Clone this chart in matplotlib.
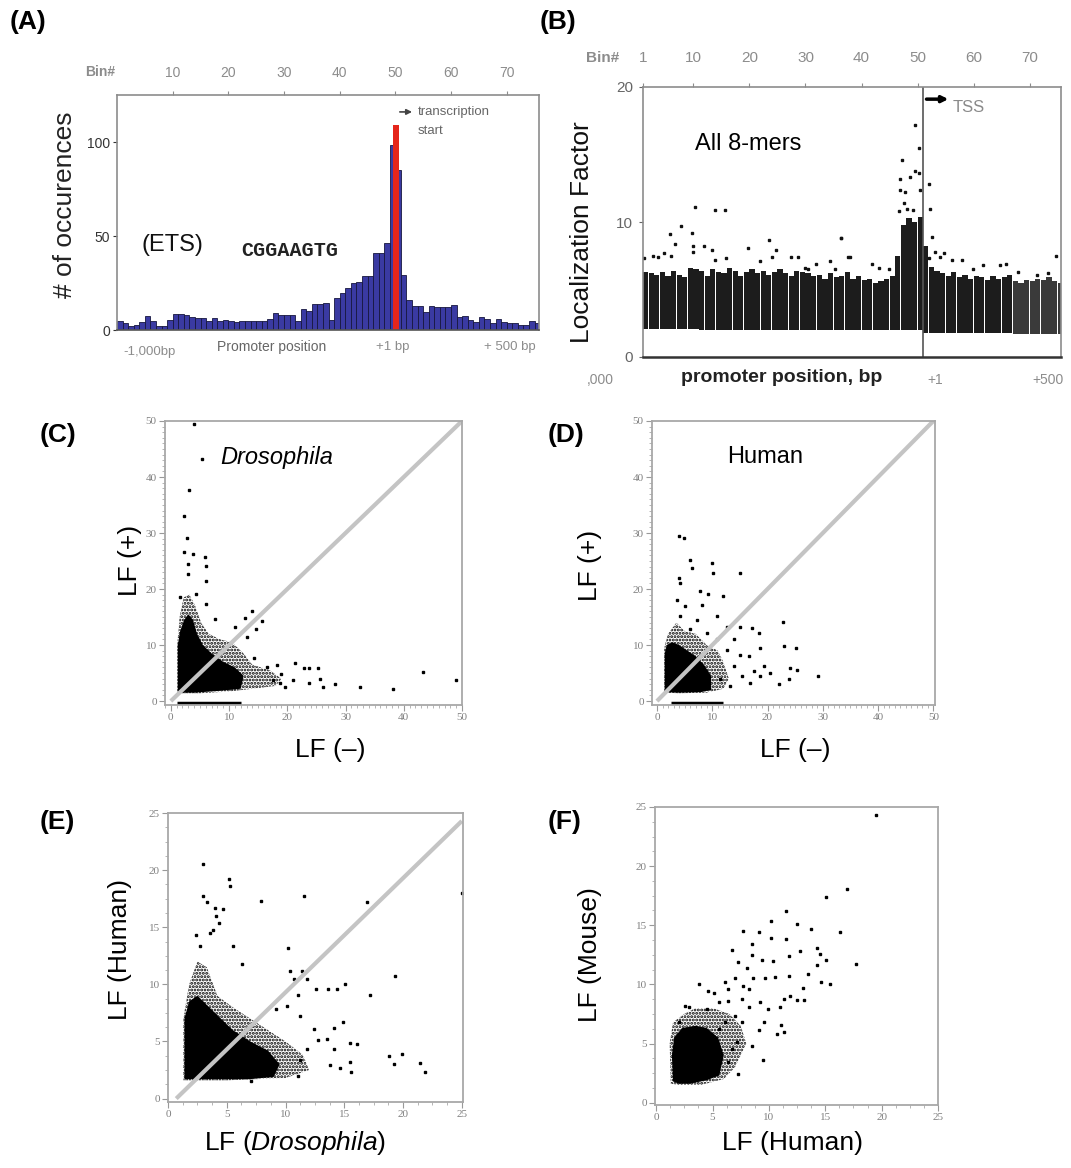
import matplotlib.pyplot as plt
import numpy as np
from matplotlib.ticker import MultipleLocator

plt.rcParams['font.family'] = ['Liberation Sans', 'DejaVu Sans']
plt.rcParams['mathtext.fontset'] = 'custom'
plt.rcParams['mathtext.rm'] = 'Liberation Sans'
plt.rcParams['mathtext.it'] = 'Liberation Sans:italic'
plt.rcParams['hatch.linewidth'] = 1.4

W, H = 1071, 1168

# --- (A) ETS motif CGGAAGTG, occurrences per bin ---
ets_counts = [4.6, 3.5, 2.3, 2.8, 4.0, 7.3, 4.6, 2.3, 2.3, 5.3,
              8.5, 8.5, 8.2, 6.7, 6.2, 6.2, 5.0, 6.4, 4.6, 5.3,
              4.6, 4.1, 4.6, 5.0, 5.0, 5.0, 5.0, 5.9, 8.9, 8.2,
              8.0, 8.2, 5.0, 11.2, 10.3, 13.8, 13.8, 14.5, 5.3, 16.8,
              19.5, 22.2, 24.8, 25.7, 28.7, 28.7, 40.8, 40.8, 46.5, 98.4,
              85.1, 29.0, 16.0, 12.8, 12.8, 9.8, 12.8, 12.4, 12.4, 12.4,
              13.3, 7.1, 7.4, 5.3, 4.4, 7.1, 5.7, 3.5, 5.7, 4.4,
              3.9, 3.5, 2.7, 2.7, 5.0, 3.5]
tss_bin_a = 50.1
tss_count_a = 109
bin_ticks = [10, 20, 30, 40, 50, 60, 70]

# --- (B) all 8-mers, localization factor per bin ---
lf_top = [6.3, 6.2, 6.1, 6.3, 6.0, 6.4, 6.1, 5.9, 6.6, 6.5,
          6.4, 6.0, 6.5, 6.3, 6.2, 6.6, 6.4, 6.0, 6.3, 6.5,
          6.2, 6.4, 6.1, 6.3, 6.5, 6.2, 6.0, 6.4, 6.3, 6.2,
          6.0, 6.1, 5.8, 6.2, 5.9, 6.0, 6.3, 5.8, 6.0, 5.7,
          5.8, 5.5, 5.6, 5.8, 6.0, 7.5, 9.8, 10.3, 10.0, 10.4,
          8.2, 6.7, 6.4, 6.2, 6.0, 6.3, 5.9, 6.1, 5.8, 6.0,
          5.9, 5.7, 6.0, 5.8, 5.9, 6.1, 5.6, 5.5, 5.7, 5.6,
          5.8, 5.7, 5.9, 5.6, 5.5]
lf_bottom = [2.1] * 10 + [2.0] * 40 + [1.8] * 16 + [1.7] * 9
out_bin_b = [10.3, 13.8, 15.7, 7.7, 5.8, 9.8, 6.7, 23.4, 36.3, 34.3, 10.0, 10.0, 11.9,
             13.3, 13.9, 19.8, 24.8, 15.8, 21.9, 24.0, 27.5, 28.7, 29.9, 31.9, 30.4,
             35.2, 37.5, 6.0, 4.8, 2.7, 1.2, 3.6,
             49.5, 50.2, 47.2, 49.5, 50.2, 46.8, 48.7, 50.5, 52.0, 46.8, 47.8, 52.3,
             52.6, 36.4, 37.9, 41.9, 43.1, 44.9, 54.8, 56.1, 58.0, 59.9, 61.7, 64.8,
             65.8, 67.9, 74.7, 71.4, 73.2, 52.0, 53.2, 54.0, 47.5, 48.2, 49.2, 46.6]
out_val_b = [11.1, 10.9, 10.9, 9.7, 9.1, 9.2, 8.4, 8.7, 8.8, 7.1, 8.2, 7.8, 8.2,
             7.9, 7.2, 8.1, 7.9, 7.3, 7.1, 7.4, 7.4, 7.4, 6.6, 6.9, 6.5,
             6.5, 7.4, 7.5, 7.7, 7.5, 7.3, 7.4,
             17.2, 15.5, 14.6, 13.8, 13.6, 13.2, 13.3, 12.4, 12.8, 12.4, 12.2, 11.0,
             8.9, 8.8, 7.4, 6.9, 6.6, 6.5, 7.7, 7.2, 7.2, 6.5, 6.8, 6.8,
             6.9, 6.3, 7.5, 6.1, 6.2, 7.3, 7.8, 7.4, 11.4, 11.0, 10.9, 10.8]
bin_ticks_b = [1, 10, 20, 30, 40, 50, 60, 70]
tss_bin_b = 51

# --- (C) Drosophila LF(+) vs LF(-) ---
c_core_x = [1.2, 1.2, 1.6, 2.3, 3.0, 3.8, 4.5, 5.5, 7.0, 9.0, 11.0, 12.5, 12.0, 8.0, 4.0]
c_core_y = [1.5, 10.0, 12.5, 14.5, 15.5, 14.5, 12.0, 10.0, 8.5, 7.0, 6.0, 4.5, 2.2, 1.8, 1.5]
c_halo_x = [1.1, 1.1, 1.5, 2.2, 3.2, 4.2, 5.2, 6.5, 8.5, 10.5, 12.5, 14.0, 17.0, 19.0, 18.0, 14.0, 10.0, 5.0]
c_halo_y = [1.4, 10.0, 15.0, 18.5, 19.0, 17.0, 14.0, 12.0, 11.0, 10.5, 8.5, 6.5, 5.5, 4.0, 2.7, 2.2, 1.7, 1.4]
c_pts_x = [4.0, 5.3, 3.2, 2.3, 2.8, 2.2, 3.8, 5.8, 3.0, 6.0, 6.1, 3.0, 1.5, 4.4, 6.1,
           7.6, 14.0, 15.7, 14.6, 12.7, 11.0, 13.0, 14.3, 16.5, 18.2, 19.0, 21.3, 22.8,
           23.8, 25.2, 21.0, 23.8, 25.7, 26.2, 28.2, 32.5, 38.1, 43.3, 48.9, 19.6, 18.8, 17.6]
c_pts_y = [49.5, 43.3, 37.7, 33.0, 29.1, 26.6, 26.2, 25.8, 24.5, 24.1, 21.5, 22.7, 18.6, 19.2, 17.4,
           14.7, 16.1, 14.3, 12.9, 14.9, 13.2, 11.4, 7.7, 6.1, 6.4, 4.9, 6.8, 5.9,
           5.9, 5.9, 3.7, 3.2, 4.0, 2.5, 3.0, 2.5, 2.1, 5.2, 3.8, 2.6, 3.2, 3.8]
c_strip = (1.0, 12.0)

# --- (D) Human LF(+) vs LF(-) ---
d_core_x = [1.4, 1.4, 1.8, 2.8, 4.0, 5.5, 7.0, 8.5, 9.8, 9.8, 8.0, 4.0]
d_core_y = [1.6, 8.5, 10.0, 10.5, 10.0, 9.0, 8.0, 6.5, 4.5, 2.0, 1.6, 1.5]
d_halo_x = [1.3, 1.3, 2.0, 3.5, 5.0, 7.0, 9.0, 11.0, 12.0, 13.0, 12.0, 9.0, 4.0]
d_halo_y = [1.5, 9.5, 12.0, 14.0, 12.5, 12.0, 10.0, 9.0, 7.0, 4.0, 2.2, 1.5, 1.4]
d_pts_x = [4.8, 3.9, 5.9, 6.3, 10.0, 10.2, 15.1, 4.0, 4.2, 7.8, 9.2, 12.0, 3.6, 5.1, 8.1,
           4.2, 10.8, 12.7, 15.1, 17.2, 18.4, 22.8, 23.0, 25.1, 18.7, 16.6, 15.1, 13.9,
           15.4, 17.5, 19.3, 20.5, 22.0, 23.8, 24.1, 25.4, 29.2, 18.7, 16.9, 13.3, 11.4,
           12.7, 10.8, 9.0, 13.9, 6.0, 7.2]
d_pts_y = [29.1, 29.4, 25.2, 23.7, 24.6, 22.8, 22.8, 21.9, 21.1, 19.6, 19.1, 18.7, 18.1, 16.9, 17.2,
           15.1, 15.1, 13.3, 13.3, 13.0, 12.2, 14.2, 9.8, 9.5, 9.5, 8.0, 8.3, 6.2,
           4.4, 5.3, 6.2, 5.0, 3.0, 3.9, 5.9, 5.5, 4.4, 4.4, 3.3, 2.7, 3.9,
           9.2, 11.0, 12.2, 11.0, 12.8, 14.5]
d_strip = (2.5, 12.0)

# --- (E) LF(Human) vs LF(Drosophila) ---
e_core_x = [1.4, 1.4, 1.8, 2.5, 3.5, 4.5, 5.5, 7.0, 8.5, 9.5, 9.0, 7.0, 4.0]
e_core_y = [1.7, 7.0, 8.5, 9.0, 8.0, 7.0, 6.0, 5.0, 4.2, 3.0, 1.9, 1.7, 1.7]
e_halo_x = [1.3, 1.3, 1.8, 2.5, 3.3, 4.2, 5.5, 7.0, 8.5, 10.0, 11.5, 12.0, 10.0, 5.0]
e_halo_y = [1.6, 7.0, 10.0, 12.0, 11.5, 9.0, 8.0, 7.0, 6.0, 5.0, 3.8, 2.5, 1.8, 1.6]
e_pts_x = [3.0, 5.2, 5.3, 3.0, 3.3, 7.9, 11.6, 16.9, 25.0, 4.0, 4.7, 4.1, 4.3, 3.8, 3.6,
           2.4, 2.7, 5.5, 10.2, 6.3, 10.4, 11.4, 10.7, 11.8, 19.3, 12.6, 13.6, 14.4, 15.1,
           17.2, 11.1, 10.1, 9.2, 11.2, 12.4, 14.1, 14.9, 12.8, 13.5, 15.5, 16.1, 11.8,
           14.1, 11.2, 13.8, 14.6, 15.6, 15.5, 18.8, 19.9, 19.2, 21.4, 21.9, 7.1, 11.1]
e_pts_y = [20.5, 19.2, 18.6, 17.7, 17.2, 17.3, 17.7, 17.2, 18.0, 16.7, 16.6, 16.0, 15.4, 14.8, 14.5,
           14.3, 13.4, 13.4, 13.2, 11.8, 11.2, 11.2, 10.5, 10.5, 10.7, 9.6, 9.6, 9.6, 10.0,
           9.1, 9.1, 8.1, 7.8, 7.2, 6.1, 6.2, 6.7, 5.1, 5.2, 4.9, 4.8, 4.3,
           4.3, 3.4, 2.9, 2.7, 2.3, 3.2, 3.7, 3.9, 3.0, 3.1, 2.3, 1.5, 2.0]
e_diag = ([0.7, 25.0], [0.0, 24.3])

# --- (F) LF(Mouse) vs LF(Human) ---
f_core_x = [1.5, 1.4, 1.6, 2.3, 3.5, 4.5, 5.5, 6.0, 5.6, 4.5, 3.0, 2.0]
f_core_y = [1.8, 4.0, 5.5, 6.3, 6.5, 6.3, 5.5, 4.0, 2.3, 1.9, 1.6, 1.6]
f_halo_x = [1.3, 1.2, 1.5, 2.5, 3.5, 5.0, 6.5, 7.5, 8.0, 7.0, 6.0, 4.0, 2.0]
f_halo_y = [1.6, 5.0, 6.8, 7.5, 8.0, 8.0, 7.5, 6.5, 5.0, 3.0, 2.0, 1.5, 1.5]
f_pts_x = [19.5, 16.9, 15.1, 11.5, 10.2, 12.5, 13.7, 7.7, 9.1, 16.3, 10.2, 11.5, 8.5, 12.8,
           14.3, 17.7, 6.7, 8.5, 9.4, 10.4, 11.8, 15.1, 14.5, 7.3, 8.1, 14.3, 13.5, 11.8,
           10.5, 9.7, 8.6, 3.8, 6.1, 7.0, 14.6, 15.4, 13.0, 11.9, 11.3, 12.5, 13.1, 4.6,
           5.1, 2.9, 2.6, 5.6, 6.4, 7.6, 8.2, 9.2, 9.9, 11.0, 9.6, 11.1, 11.3, 10.7, 9.1,
           8.5, 7.6, 7.0, 7.2, 6.7, 9.5, 7.3, 6.4, 6.1, 5.6, 2.0, 4.5, 8.2, 7.7, 6.4]
f_pts_y = [24.3, 18.1, 17.4, 16.2, 15.4, 15.1, 14.7, 14.5, 14.4, 14.4, 13.9, 13.8, 13.4, 12.8,
           13.1, 11.7, 12.9, 12.5, 12.1, 12.0, 12.4, 12.1, 12.6, 11.9, 11.4, 11.6, 10.9, 10.7,
           10.6, 10.5, 10.5, 10.0, 10.2, 10.5, 10.2, 10.0, 9.7, 9.0, 8.8, 8.7, 8.7, 9.4,
           9.3, 8.1, 8.2, 8.5, 8.6, 8.8, 8.1, 8.5, 7.9, 8.1, 6.8, 6.6, 6.0, 5.8, 6.1,
           4.8, 6.8, 7.3, 5.1, 4.5, 3.6, 2.4, 3.4, 6.8, 6.2, 6.8, 7.9, 9.6, 9.9, 9.6]


def fx(px):
    return px / W


def fy(py):
    return 1 - py / H


def rect(left, top, right, bottom):
    return [left / W, 1 - bottom / H, (right - left) / W, (bottom - top) / H]


fig = plt.figure(figsize=(W / 100, H / 100), dpi=100)
fig.patch.set_facecolor('white')

GREY = '#8c8c8c'

# ---------------- panel A ----------------
axA = fig.add_axes(rect(117, 95, 539, 330))
bins_a = np.arange(1, len(ets_counts) + 1)
axA.bar(bins_a - 0.5, ets_counts, width=1.0, color='#3a3aa2', edgecolor='#17173f', linewidth=0.6)
axA.bar(tss_bin_a, tss_count_a, width=1.0, color='#e5261b', linewidth=0)
axA.set_xlim(0, 75.8)
axA.set_ylim(0, 125)
axA.set_yticks([0, 50, 100])
axA.tick_params(axis='y', labelsize=10, colors='#333333', length=3, pad=2)
axA.xaxis.tick_top()
axA.set_xticks(bin_ticks)
axA.tick_params(axis='x', labelsize=10, colors=GREY, length=3, pad=7.5)
for s in axA.spines.values():
    s.set_color(GREY)
    s.set_linewidth(1.2)
axA.spines['bottom'].set_color('#555555')
fig.text(fx(100), fy(72), 'Bin#', color=GREY, fontsize=10, fontweight='bold', ha='center', va='center')
fig.text(fx(65), fy(205), '# of occurences', rotation=90, fontsize=19, color='#222222', ha='center', va='center')
fig.text(fx(172), fy(245), '(ETS)', fontsize=17, color='#111111', ha='center', va='center')
fig.text(fx(290), fy(250), 'CGGAAGTG', fontsize=14.5, fontweight='bold', family='Liberation Mono',
         color='#222222', ha='center', va='center')
axA.annotate('', xy=(53.5, 116), xytext=(50.3, 116),
             arrowprops=dict(arrowstyle='-|>', color='#444444', lw=1.2, mutation_scale=8))
axA.text(54, 116, 'transcription', fontsize=9.5, color='#666666', va='center')
axA.text(54, 106, 'start', fontsize=9.5, color='#666666', va='center')
fig.text(fx(150), fy(352), '-1,000bp', fontsize=9.5, color=GREY, ha='center', va='center')
fig.text(fx(272), fy(347), 'Promoter position', fontsize=10, color='#666666', ha='center', va='center')
fig.text(fx(393), fy(347), '+1 bp', fontsize=9.5, color=GREY, ha='center', va='center')
fig.text(fx(510), fy(347), '+ 500 bp', fontsize=9.5, color=GREY, ha='center', va='center')

# ---------------- panel B ----------------
axB = fig.add_axes(rect(643, 87, 1061, 357))
bins_b = np.arange(1, len(lf_top) + 1)
heights_b = np.array(lf_top) - np.array(lf_bottom)
colors_b = ['#1c1c1c'] * 66 + ['#3a3a3a'] * (len(lf_top) - 66)
axB.bar(bins_b, heights_b, bottom=lf_bottom, width=0.93, align='edge', color=colors_b, linewidth=0)
axB.plot(out_bin_b, out_val_b, 's', ms=2.0, color='#111111', linestyle='none')
axB.axvline(tss_bin_b, color='#555555', lw=1.2)
axB.annotate('', xy=(56, 19.1), xytext=(51.1, 19.1),
             arrowprops=dict(arrowstyle='-|>', color='black', lw=2.5, mutation_scale=9))
axB.text(56.3, 18.5, 'TSS', fontsize=12, color='#8a8a8a', va='center')
axB.text(10.3, 15.8, 'All 8-mers', fontsize=17, color='black', va='center')
axB.set_xlim(1, 75.6)
axB.set_ylim(0, 20)
axB.set_yticks([0, 10, 20])
axB.tick_params(axis='y', labelsize=11, colors='#666666', length=3, pad=4)
axB.xaxis.tick_top()
axB.set_xticks(bin_ticks_b)
axB.tick_params(axis='x', labelsize=11, colors=GREY, length=3, pad=13)
for s in axB.spines.values():
    s.set_color(GREY)
    s.set_linewidth(1.2)
axB.spines['bottom'].set_color('#333333')
axB.spines['bottom'].set_linewidth(1.8)
fig.text(fx(603), fy(58), 'Bin#', color=GREY, fontsize=11, fontweight='bold', ha='center', va='center')
fig.text(fx(582), fy(232), 'Localization Factor', rotation=90, fontsize=19, color='#111111',
         ha='center', va='center')
fig.text(fx(600), fy(380), ',000', fontsize=10, color=GREY, ha='center', va='center')
fig.text(fx(782), fy(378), 'promoter position, bp', fontsize=14, fontweight='bold', color='#222222',
         ha='center', va='center')
fig.text(fx(935), fy(380), '+1', fontsize=10, color=GREY, ha='center', va='center')
fig.text(fx(1048), fy(380), '+500', fontsize=10, color=GREY, ha='center', va='center')


# ---------------- scatter panels ----------------
def scatter_panel(box, xlim, ylim, major, minor, core, halo, pts, diag=None, strip=None):
    ax = fig.add_axes(rect(*box))
    ax.fill(halo[0], halo[1], facecolor='none', edgecolor='black', hatch='.....', linewidth=0)
    ax.fill(core[0], core[1], color='black', linewidth=0)
    ax.plot(pts[0], pts[1], 's', ms=1.7, color='black', linestyle='none')
    if strip is not None:
        ax.hlines(-0.4 * major / 10, strip[0], strip[1], color='black', lw=2.5)
    if diag is not None:
        ax.plot(diag[0], diag[1], color='#c4c4c4', lw=3, solid_capstyle='butt')
    ax.set_xlim(*xlim)
    ax.set_ylim(*ylim)
    ax.set_xticks(np.arange(0, xlim[1] + 0.01, major))
    ax.set_yticks(np.arange(0, ylim[1] + 0.01, major))
    ax.xaxis.set_minor_locator(MultipleLocator(minor))
    ax.yaxis.set_minor_locator(MultipleLocator(minor))
    ax.tick_params(which='major', length=4, color='#999999', labelsize=8, labelcolor='#808080', pad=2)
    ax.tick_params(which='minor', length=2.5, color='#aaaaaa')
    for lab in ax.get_xticklabels() + ax.get_yticklabels():
        lab.set_family('Liberation Serif')
    for s in ax.spines.values():
        s.set_color('#a8a8a8')
        s.set_linewidth(1.3)
    return ax


axC = scatter_panel((165, 421, 462, 705), (-1, 50), (-0.7, 50), 10, 1,
                    (c_core_x, c_core_y), (c_halo_x, c_halo_y), (c_pts_x, c_pts_y),
                    diag=([0, 50], [0, 50]), strip=c_strip)
axC.text(8.5, 43.5, 'Drosophila', fontsize=17, style='italic', va='center')
fig.text(fx(130), fy(560), 'LF (+)', rotation=90, fontsize=19, ha='center', va='center')
fig.text(fx(330), fy(750), 'LF (\u2013)', fontsize=19, ha='center', va='center')

axD = scatter_panel((652, 421, 935, 705), (-0.9, 50.3), (-0.7, 50), 10, 1,
                    (d_core_x, d_core_y), (d_halo_x, d_halo_y), (d_pts_x, d_pts_y),
                    diag=([0, 50], [0, 50]), strip=d_strip)
axD.text(19.5, 43.5, 'Human', fontsize=17, ha='center', va='center')
fig.text(fx(590), fy(565), 'LF (+)', rotation=90, fontsize=19, ha='center', va='center')
fig.text(fx(795), fy(750), 'LF (\u2013)', fontsize=19, ha='center', va='center')

axE = scatter_panel((168, 813, 463, 1102), (0, 25.1), (-0.3, 25), 5, 1.25,
                    (e_core_x, e_core_y), (e_halo_x, e_halo_y), (e_pts_x, e_pts_y),
                    diag=e_diag)
fig.text(fx(120), fy(950), 'LF (Human)', rotation=90, fontsize=19, ha='center', va='center')
fig.text(fx(295), fy(1143), r'LF ($\mathit{Drosophila}$)', fontsize=19, ha='center', va='center')

axF = scatter_panel((655, 807, 938, 1105), (-0.1, 25), (-0.2, 25), 5, 1.25,
                    (f_core_x, f_core_y), (f_halo_x, f_halo_y), (f_pts_x, f_pts_y))
fig.text(fx(590), fy(955), 'LF (Mouse)', rotation=90, fontsize=19, ha='center', va='center')
fig.text(fx(793), fy(1143), 'LF (Human)', fontsize=19, ha='center', va='center')

# panel letters
for lab, px, py in [('(A)', 10, 22), ('(B)', 540, 22), ('(C)', 40, 435),
                    ('(D)', 548, 435), ('(E)', 40, 822), ('(F)', 548, 822)]:
    fig.text(fx(px), fy(py), lab, fontsize=19, fontweight='bold', ha='left', va='center')

fig.savefig('out.png', dpi=100)
